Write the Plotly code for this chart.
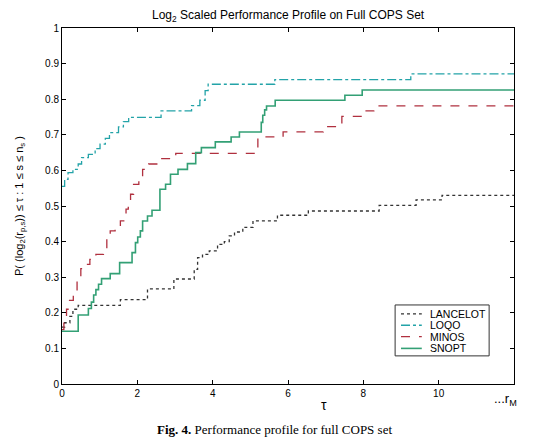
import plotly.graph_objects as go

# performance profile steps (tau, fraction of problems)
lancelot_x = [0, 0.07, 0.21, 0.29, 0.43, 1.55, 2.27, 2.97, 3.51, 3.60, 3.73, 3.91, 4.13, 4.31,
              4.44, 4.58, 4.80, 5.07, 5.72, 6.54, 8.42, 9.40, 10.09, 12]
lancelot_y = [0.16, 0.172, 0.19, 0.21, 0.221, 0.237, 0.267, 0.295, 0.322, 0.355, 0.364, 0.374, 0.392, 0.40,
              0.416, 0.427, 0.44, 0.458, 0.474, 0.486, 0.502, 0.517, 0.530, 0.530]

loqo_x = [0, 0.07, 0.16, 0.29, 0.43, 0.52, 0.70, 0.88, 1.01, 1.15, 1.26, 1.50, 1.63, 1.77,
          2.63, 3.44, 3.66, 3.80, 3.88, 5.65, 9.26, 12]
loqo_y = [0.555, 0.575, 0.594, 0.603, 0.618, 0.636, 0.645, 0.661, 0.674, 0.69, 0.706, 0.722, 0.737, 0.749,
          0.767, 0.782, 0.797, 0.824, 0.842, 0.855, 0.871, 0.871]

minos_x = [0, 0.05, 0.12, 0.20, 0.30, 0.40, 0.50, 0.62, 0.74, 0.90, 1.10, 1.19, 1.28, 1.41, 1.55,
           1.70, 1.76, 1.82, 1.90, 2.04, 2.14, 2.30, 2.55, 3.02, 5.20, 5.87, 6.94, 7.43, 7.97, 8.28, 12]
minos_y = [0.153, 0.19, 0.21, 0.235, 0.26, 0.29, 0.324, 0.336, 0.35, 0.364, 0.369, 0.416, 0.43, 0.444, 0.458,
           0.491, 0.515, 0.533, 0.561, 0.575, 0.603, 0.618, 0.633, 0.648, 0.694, 0.708, 0.723, 0.752, 0.767, 0.781, 0.781]

snopt_x = [0, 0.43, 0.70, 0.78, 0.84, 0.90, 0.97, 1.05, 1.28, 1.53, 1.86, 1.95, 2.01, 2.08, 2.14, 2.27,
           2.39, 2.60, 2.75, 2.88, 3.08, 3.33, 3.55, 3.70, 4.07, 4.49, 4.71, 5.29, 5.33, 5.38, 5.43, 5.66,
           7.51, 7.97, 12]
snopt_y = [0.148, 0.194, 0.212, 0.23, 0.25, 0.265, 0.28, 0.296, 0.31, 0.341, 0.369, 0.397, 0.413, 0.43, 0.458, 0.472,
           0.488, 0.547, 0.561, 0.589, 0.603, 0.619, 0.650, 0.664, 0.680, 0.694, 0.708, 0.735, 0.755, 0.77, 0.781, 0.797,
           0.811, 0.826, 0.826]

x_ticks = [0, 2, 4, 6, 8, 10]
y_ticks = [0, 0.1, 0.2, 0.3, 0.4, 0.5, 0.6, 0.7, 0.8, 0.9, 1]

fig = go.Figure()
fig.add_trace(go.Scatter(x=lancelot_x, y=lancelot_y, name='LANCELOT', mode='lines', line_shape='hv',
                         line=dict(color='#333333', width=1.3, dash='dot')))
fig.add_trace(go.Scatter(x=loqo_x, y=loqo_y, name='LOQO', mode='lines', line_shape='hv',
                         line=dict(color='#23a3a8', width=1.3, dash='dashdot')))
fig.add_trace(go.Scatter(x=minos_x, y=minos_y, name='MINOS', mode='lines', line_shape='hv',
                         line=dict(color='#b0303f', width=1.3, dash='dash')))
fig.add_trace(go.Scatter(x=snopt_x, y=snopt_y, name='SNOPT', mode='lines', line_shape='hv',
                         line=dict(color='#33a075', width=1.6)))

axis_style = dict(showgrid=False, zeroline=False, showline=True, linecolor='black', linewidth=1,
                  mirror='allticks', ticks='inside', ticklen=4, tickcolor='black',
                  tickfont=dict(family='Liberation Sans, Arial', size=10, color='black'))

fig.update_xaxes(range=[0, 12], tickvals=x_ticks, **axis_style)
fig.update_yaxes(range=[0, 1], tickvals=y_ticks, ticktext=[f'{v:g}' for v in y_ticks], **axis_style)

# compact legend box like the MATLAB one (plotly's own legend rows are too tall)
shapes = [dict(type='rect', xref='paper', yref='paper', x0=0.737, x1=0.945, y0=0.079, y1=0.222,
               line=dict(color='#333333', width=1), fillcolor='white', layer='above')]
legend_text = []
row_y = [0.197, 0.165, 0.133, 0.100]
for tr, yy in zip(fig.data, row_y):
    shapes.append(dict(type='line', xref='paper', yref='paper', x0=0.750, x1=0.796, y0=yy, y1=yy,
                       line=dict(color=tr.line.color, width=tr.line.width, dash=tr.line.dash or 'solid'),
                       layer='above'))
    legend_text.append(dict(text=tr.name, xref='paper', yref='paper', x=0.809, y=yy, xanchor='left',
                            yanchor='middle', showarrow=False, font=dict(size=10.5)))

fig.update_layout(
    width=532, height=431,
    margin=dict(l=54, r=26, t=20, b=55),
    plot_bgcolor='white', paper_bgcolor='white',
    showlegend=False,
    font=dict(family='Liberation Sans, Arial', color='black'),
    shapes=shapes,
    annotations=legend_text + [
        dict(text='Log<sub>2</sub> Scaled Performance Profile on Full COPS Set', xref='paper', yref='paper',
             x=0.5, y=1, yshift=2, xanchor='center', yanchor='bottom', showarrow=False, font=dict(size=12)),
        dict(text='P( (log<sub>2</sub>(r<sub>p,s</sub>)) ≤ τ : 1 ≤ s ≤ n<sub>s</sub> )', xref='paper', yref='paper',
             x=0, y=0.5, xshift=-42, textangle=-90, xanchor='center', yanchor='middle', showarrow=False,
             font=dict(size=11)),
        dict(text='τ', xref='x', yref='paper', x=6.95, y=0, yshift=-11, xanchor='center', yanchor='top',
             showarrow=False, font=dict(size=14)),
        dict(text='...r<sub>M</sub>', xref='x', yref='paper', x=12, y=0, yshift=-5, xshift=-9,
             xanchor='center', yanchor='top', showarrow=False, font=dict(size=13)),
        dict(text='<b>Fig. 4.</b> Performance profile for full COPS set', xref='paper', yref='paper',
             x=(155 - 62) / 452, y=0, yshift=-36, xanchor='left', yanchor='top', showarrow=False,
             font=dict(family='Liberation Serif, Times New Roman', size=13)),
    ],
)

fig.write_html("out.html")
